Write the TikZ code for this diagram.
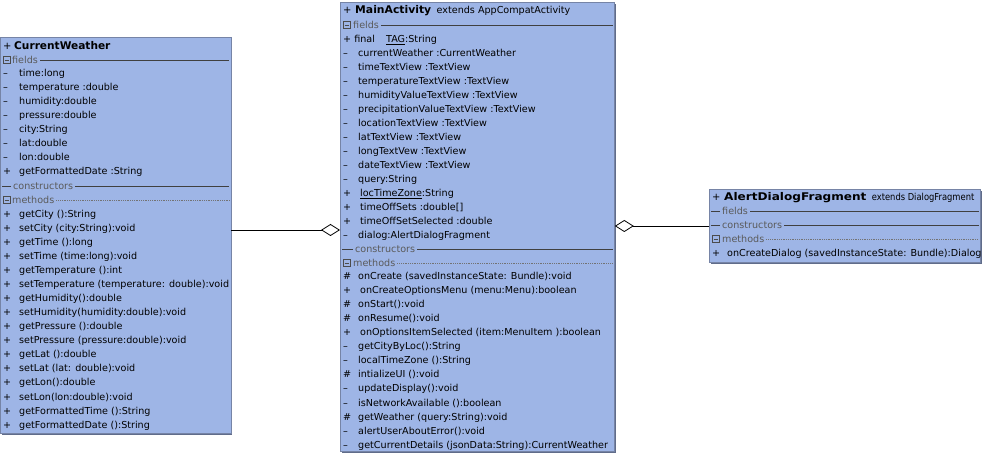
\documentclass[tikz,border=0pt]{standalone}
\usepackage{fontspec}
\setmainfont{DejaVu Sans}
\usetikzlibrary{arrows.meta}
\definecolor{boxfill}{RGB}{158,181,230}
\definecolor{boxline}{RGB}{118,132,166}
\definecolor{shadowc}{RGB}{96,108,138}
\definecolor{hdr}{RGB}{90,90,90}
\newcommand{\rowfont}{\fontsize{9.6bp}{11bp}\selectfont}
\newcommand{\ttlfont}{\fontsize{10.6bp}{12bp}\selectfont\bfseries}
\tikzset{
  umlbox/.style={draw=boxline, fill=boxfill, line width=0.8bp, inner sep=0, anchor=north west},
  shadowbox/.style={fill=shadowc, inner sep=0, anchor=north west},
  rowtext/.style={anchor=base west, inner sep=0, font=\rowfont, text=black},
  hdrtext/.style={anchor=base west, inner sep=0, font=\rowfont, text=hdr},
  ttl/.style={anchor=base west, inner sep=0, font=\ttlfont, text=black},
  sepline/.style={draw=black!75, line width=0.6bp},
  dotline/.style={draw=black!55, line width=0.6bp, dash pattern=on 0.6bp off 1.2bp},
  iconbox/.style={draw=black!70, line width=0.5bp},
  agg/.style={draw=black, line width=0.8bp, -{Diamond[open, length=19bp, width=12bp, line width=0.8bp]}},
}
\begin{document}
\begin{tikzpicture}[x=1bp, y=-1bp]
\useasboundingbox (0,0) rectangle (983,454);
\fill[white] (0,0) rectangle (983,454);

% ---------- boxes ----------
\node[shadowbox, minimum width=230bp, minimum height=396bp] (cwsh) at (2,38.5) {};
\node[umlbox, minimum width=230bp, minimum height=396bp] (cw) at (0.5,37) {};
\node[shadowbox, minimum width=274bp, minimum height=449bp] (mash) at (341.5,3.5) {};
\node[umlbox, minimum width=274bp, minimum height=449bp] (ma) at (340,2) {};
\node[shadowbox, minimum width=271bp, minimum height=73bp] (adsh) at (710.5,190.5) {};
\node[umlbox, minimum width=271bp, minimum height=73bp] (ad) at (709,189) {};

% ---------- CurrentWeather ----------
\node[rowtext, font=\fontsize{10bp}{12bp}\selectfont] (cwp) at (3,50) {+};
\node[ttl] (cwt) at (14,50) {CurrentWeather};
\draw[iconbox] (3,56.5) rectangle (10,63.5);
\draw[iconbox] (4.5,60) -- (8.5,60);
\node[hdrtext] (cwhf) at (12,64) {fields};
\draw[sepline] ([xshift=2bp]cwhf.east) -- ([xshift=-2bp]cwhf.east -| cw.east);
\foreach [count=\i] \m/\t in {{–}/{time:long}, {–}/{temperature :double}, {–}/{humidity:double},
  {–}/{pressure:double}, {–}/{city:String}, {–}/{lat:double}, {–}/{lon:double},
  {+}/{getFormattedDate :String}} {
  \node[rowtext] (cwfm\i) at (3,{77+14*(\i-1)}) {\m};
  \node[rowtext] (cwf\i) at (19,{77+14*(\i-1)}) {\t};
}
\node[hdrtext] (cwhc) at (13,190) {constructors};
\draw[sepline] ([xshift=-2bp]cwhc.west) -- (cwhc.west -| 2,0);
\draw[sepline] ([xshift=2bp]cwhc.east) -- ([xshift=-2bp]cwhc.east -| cw.east);
\draw[iconbox] (3,196.5) rectangle (10,203.5);
\draw[iconbox] (4.5,200) -- (8.5,200);
\node[hdrtext] (cwhm) at (12,204) {methods};
\draw[dotline] ([xshift=2bp]cwhm.east) -- ([xshift=-2bp]cwhm.east -| cw.east);
\foreach [count=\i] \t in {{getCity ():String}, {setCity (city:String):void}, {getTime ():long},
  {setTime (time:long):void}, {getTemperature ():int}, {setTemperature (temperature: double):void},
  {getHumidity():double}, {setHumidity(humidity:double):void}, {getPressure ():double},
  {setPressure (pressure:double):void}, {getLat ():double}, {setLat (lat: double):void},
  {getLon():double}, {setLon(lon:double):void}, {getFormattedTime ():String},
  {getFormattedDate ():String}} {
  \node[rowtext] (cwmm\i) at (3,{218+14*(\i-1)}) {+};
  \node[rowtext] (cwm\i) at (19,{218+14*(\i-1)}) {\t};
}

% ---------- MainActivity ----------
\node[rowtext, font=\fontsize{10bp}{12bp}\selectfont] (map) at (343,14) {+};
\node[ttl] (mat) at (355,14) {\scalebox{1.02}[1]{MainActivity}};
\node[rowtext] (mae) at ([xshift=5bp]mat.base east) {extends AppCompatActivity};
\draw[iconbox] (343,21.5) rectangle (350,28.5);
\draw[iconbox] (344.5,25) -- (348.5,25);
\node[hdrtext] (mahf) at (353,29) {fields};
\draw[sepline] ([xshift=2bp]mahf.east) -- ([xshift=-2bp]mahf.east -| ma.east);
\node[rowtext] (mafm0) at (343,43) {+ final};
\node[rowtext] (maf0) at (386,43) {\underline{TAG}:String};
\foreach [count=\i] \m/\t/\d in {{–}/{currentWeather :CurrentWeather}/0, {–}/{timeTextView :TextView}/0,
  {–}/{temperatureTextView :TextView}/0, {–}/{humidityValueTextView :TextView}/0,
  {–}/{precipitationValueTextView :TextView}/0, {–}/{locationTextView :TextView}/0,
  {–}/{latTextView :TextView}/0, {–}/{longTextVew :TextView}/0, {–}/{dateTextView :TextView}/0,
  {–}/{query:String}/0, {+}/{\underline{locTimeZone}:String}/2, {+}/{timeOffSets :double[]}/2,
  {+}/{timeOffSetSelected :double}/2, {–}/{dialog:AlertDialogFragment}/0} {
  \node[rowtext] (mafm\i) at (343,{57+14*(\i-1)}) {\m};
  \node[rowtext] (maf\i) at ({358+\d},{57+14*(\i-1)}) {\t};
}
\node[hdrtext] (mahc) at (355,253) {constructors};
\draw[sepline] ([xshift=-2bp]mahc.west) -- (mahc.west -| 342,0);
\draw[sepline] ([xshift=2bp]mahc.east) -- ([xshift=-2bp]mahc.east -| ma.east);
\draw[iconbox] (343,259.5) rectangle (350,266.5);
\draw[iconbox] (344.5,263) -- (348.5,263);
\node[hdrtext] (mahm) at (353,267) {methods};
\draw[dotline] ([xshift=2bp]mahm.east) -- ([xshift=-2bp]mahm.east -| ma.east);
\foreach [count=\i] \m/\t/\d in {{\#}/{onCreate (savedInstanceState: Bundle):void}/0,
  {+}/{onCreateOptionsMenu (menu:Menu):boolean}/2, {\#}/{onStart():void}/0, {\#}/{onResume():void}/0,
  {+}/{onOptionsItemSelected (item:MenuItem ):boolean}/2, {–}/{getCityByLoc():String}/0,
  {–}/{localTimeZone ():String}/0, {\#}/{intializeUI ():void}/0, {–}/{updateDisplay():void}/0,
  {–}/{isNetworkAvailable ():boolean}/0, {\#}/{getWeather (query:String):void}/0,
  {–}/{alertUserAboutError():void}/0, {–}/{getCurrentDetails (jsonData:String):CurrentWeather}/0} {
  \node[rowtext] (mamm\i) at (343,{280+14*(\i-1)}) {\m};
  \node[rowtext] (mam\i) at ({358+\d},{280+14*(\i-1)}) {\t};
}

% ---------- AlertDialogFragment ----------
\node[rowtext, font=\fontsize{10bp}{12bp}\selectfont] (adp) at (712,201) {+};
\node[ttl] (adt) at (724,201) {\scalebox{1.14}[1]{AlertDialogFragment}};
\node[rowtext] (ade) at ([xshift=5bp]adt.base east) {\scalebox{0.87}[1]{extends DialogFragment}};
\node[hdrtext] (adhf) at (722,215) {fields};
\draw[sepline] ([xshift=-2bp]adhf.west) -- (adhf.west -| 711,0);
\draw[sepline] ([xshift=2bp]adhf.east) -- ([xshift=-2bp]adhf.east -| ad.east);
\node[hdrtext] (adhc) at (722,229) {constructors};
\draw[sepline] ([xshift=-2bp]adhc.west) -- (adhc.west -| 711,0);
\draw[sepline] ([xshift=2bp]adhc.east) -- ([xshift=-2bp]adhc.east -| ad.east);
\draw[iconbox] (712,235.5) rectangle (719,242.5);
\draw[iconbox] (713.5,239) -- (717.5,239);
\node[hdrtext] (adhm) at (722,243) {methods};
\draw[dotline] ([xshift=2bp]adhm.east) -- ([xshift=-2bp]adhm.east -| ad.east);
\node[rowtext] (admm1) at (712,257) {+};
\node[rowtext] (adm1) at (727,257) {onCreateDialog (savedInstanceState: Bundle):Dialog};

% ---------- connectors ----------
\draw[agg] (cw.east |- 0,230) -- (ma.west |- 0,230);
\draw[agg] (ad.west |- 0,226) -- (ma.east |- 0,226);
\end{tikzpicture}
\end{document}
